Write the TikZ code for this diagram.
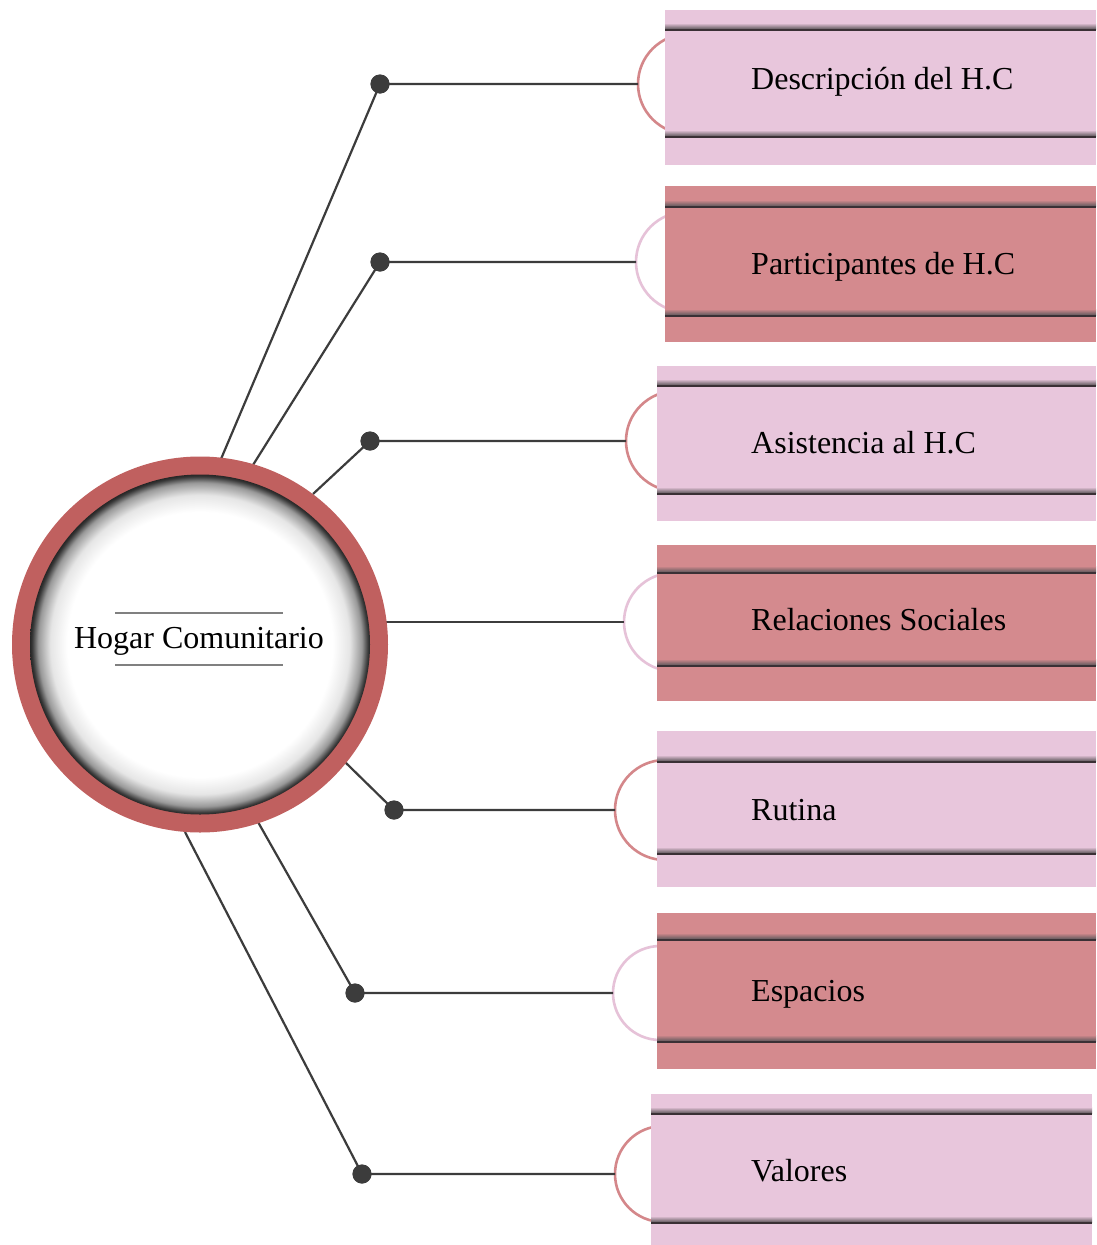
\documentclass[tikz,border=0pt]{standalone}
\usepackage{fontspec}
\setmainfont{Liberation Serif}
\definecolor{palefill}{HTML}{E8C6DC}
\definecolor{redfill}{HTML}{D48A8E}
\definecolor{ringred}{HTML}{C0605F}
\definecolor{arcred}{HTML}{D4878A}
\definecolor{arcpale}{HTML}{E6C2D8}
\definecolor{stripe}{HTML}{3A3035}
\definecolor{conn}{HTML}{3C3C3C}
\pgfdeclareradialshading{innershadow}{\pgfpoint{0bp}{0bp}}{%
 color(0bp)=(white); color(19.5bp)=(white); color(22bp)=(black!10);
 color(23.8bp)=(black!40); color(24.7bp)=(black!78); color(25bp)=(black!85); color(50bp)=(black!85)}
\tikzset{
 connector/.style={draw=conn, line width=2.2pt},
 dotnode/.style={circle, fill=conn, inner sep=0pt, minimum size=19pt},
 boxtext/.style={anchor=base west, inner sep=0pt, font=\fontsize{32}{38}\selectfont},
 arcline/.style={line width=2.6pt},
}
% #1 left #2 top #3 right #4 bottom #5 line1 #6 line2 #7 fill colour
\newcommand{\mybox}[7]{%
 \fill[#7] (#1,#2) rectangle (#3,#4);
 \foreach \ly in {#5,#6}{%
  \shade[top color=#7, bottom color=stripe!80] (#1,\ly-7) rectangle (#3,\ly-1);
  \fill[stripe] (#1,\ly-1.2) rectangle (#3,\ly+1.3);
 }}
\begin{document}
\begin{tikzpicture}[x=1pt,y=-1pt]
\useasboundingbox (0,0) rectangle (1096,1245);
\fill[white] (0,0) rectangle (1096,1245);

% arcs (drawn first, box covers right part)
\draw[arcline, arcred]  (688,84)  circle[radius=50pt];
\draw[arcline, arcpale] (686,262) circle[radius=50pt];
\draw[arcline, arcred]  (676,441) circle[radius=50pt];
\draw[arcline, arcpale] (673,622) circle[radius=49pt];
\draw[arcline, arcred]  (665,810) circle[radius=50pt];
\draw[arcline, arcpale] (660,993) circle[radius=47pt];
\draw[arcline, arcred]  (663,1174) circle[radius=48pt];

% boxes
\mybox{665}{10}{1096}{165}{30}{137}{palefill}
\mybox{665}{186}{1096}{342}{207}{316}{redfill}
\mybox{657}{366}{1096}{521}{386}{494}{palefill}
\mybox{657}{545}{1096}{701}{573}{666}{redfill}
\mybox{657}{731}{1096}{887}{762}{854}{palefill}
\mybox{657}{913}{1096}{1069}{940}{1042}{redfill}
\mybox{651}{1094}{1092}{1245}{1114}{1223}{palefill}

% box labels
\node[boxtext] (t1) at (751,89)   {Descripción del H.C};
\node[boxtext] (t2) at (751,274)  {Participantes de H.C};
\node[boxtext] (t3) at (751,453)  {Asistencia al H.C};
\node[boxtext] (t4) at (751,630)  {Relaciones Sociales};
\node[boxtext] (t5) at (751,820)  {Rutina};
\node[boxtext] (t6) at (751,1001) {Espacios};
\node[boxtext] (t7) at (751,1181) {Valores};

% arc leftmost points
\coordinate (a1) at (638,84);
\coordinate (a2) at (636,262);
\coordinate (a3) at (626,441);
\coordinate (a4) at (624,622);
\coordinate (a5) at (615,810);
\coordinate (a6) at (613,993);
\coordinate (a7) at (615,1174);

% start points on the central circle
\coordinate (s1) at (221,459);
\coordinate (s2) at (253,465);
\coordinate (s3) at (313,494);
\coordinate (s4) at (385,622);
\coordinate (s5) at (345,762);
\coordinate (s6) at (258,822);
\coordinate (s7) at (185,832);

% dots
\node[dotnode] (d1) at (380,84) {};
\node[dotnode] (d2) at (380,262) {};
\node[dotnode] (d3) at (370,441) {};
\node[dotnode] (d5) at (394,810) {};
\node[dotnode] (d6) at (355,993) {};
\node[dotnode] (d7) at (362,1174) {};

\draw[connector] (s1) -- (d1.center) -- (a1);
\draw[connector] (s2) -- (d2.center) -- (a2);
\draw[connector] (s3) -- (d3.center) -- (a3);
\draw[connector] (s4) -- (a4);
\draw[connector] (s5) -- (d5.center) -- (a5);
\draw[connector] (s6) -- (d6.center) -- (a6);
\draw[connector] (s7) -- (d7.center) -- (a7);
\foreach \d in {d1,d2,d3,d5,d6,d7}{\fill[conn] (\d) circle[radius=9.5pt];}

% central circle
\fill[ringred] (200,644.5) circle[radius=188pt];
\shade[shading=innershadow] (200,644.5) circle[radius=170pt];
\node[inner sep=0pt, font=\fontsize{32}{38}\selectfont, anchor=base] (hc) at (199,648) {Hogar Comunitario};
\draw[gray, line width=1.3pt] (115,613) -- (283,613);
\draw[gray, line width=1.3pt] (115,665) -- (283,665);
\end{tikzpicture}
\end{document}
